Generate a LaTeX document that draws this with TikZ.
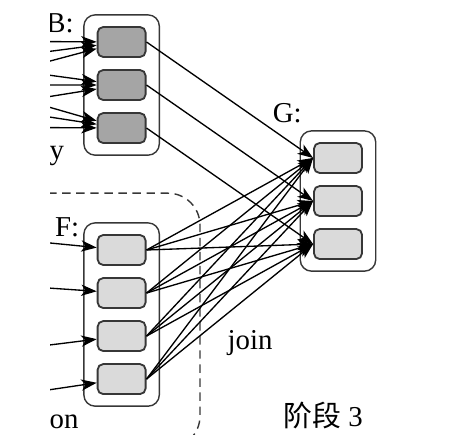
\documentclass[tikz,border=0pt]{standalone}
\usepackage{fontspec}
\setmainfont{Liberation Serif}
\newfontfamily\cjk{Noto Sans CJK SC}
\usetikzlibrary{positioning, fit, arrows.meta}
\definecolor{darkcell}{RGB}{165,165,165}
\definecolor{lightcell}{RGB}{218,218,218}
\definecolor{edgegray}{RGB}{55,55,55}

\begin{document}
\begin{tikzpicture}[
    font=\fontsize{20.5}{24}\selectfont,
    cell/.style={draw=edgegray, line width=1.3pt, rounded corners=4pt, fill=lightcell,
        minimum width=1.2cm, minimum height=0.75cm, inner sep=0pt},
    group/.style={draw=edgegray, line width=1pt, rounded corners=8pt,
        inner xsep=0.32cm, inner ysep=0.28cm},
    link/.style={line width=0.95pt, -{Stealth[length=11pt, width=8pt, inset=3pt]}},
    region/.style={dashed, dash pattern=on 6pt off 4pt, line width=1pt, draw=edgegray, rounded corners=0.8cm}
]
        \useasboundingbox (0,0) rectangle (11.4,-11.125);
        \clip (1.25,0) rectangle (11.4,-10.875);

        % dashed region around F
        \draw[region] (0.5,-4.83) -- (5,-4.83) -- (5,-11.2) -- (0.5,-11.2);

        % B: three dark cells
        \node[cell, fill=darkcell] (b1) at (3.04,-1.05) {};
        \node[cell, fill=darkcell, below=0.28cm of b1] (b2) {};
        \node[cell, fill=darkcell, below=0.28cm of b2] (b3) {};
        \node[group, fit=(b1)(b3)] (B) {};
        \node at (1.5,-0.58) {B:};
        \node at (1.42,-3.9) {y};

        % F: four light cells
        \node[cell] (f1) at (3.04,-6.25) {};
        \node[cell, below=0.28cm of f1] (f2) {};
        \node[cell, below=0.28cm of f2] (f3) {};
        \node[cell, below=0.28cm of f3] (f4) {};
        \node[group, fit=(f1)(f4)] (F) {};
        \node at (1.68,-5.68) {F:};
        \node at (1.6,-10.55) {on};

        % G: three light cells
        \node[cell] (g1) at (8.45,-3.95) {};
        \node[cell, below=0.28cm of g1] (g2) {};
        \node[cell, below=0.28cm of g2] (g3) {};
        \node[group, fit=(g1)(g3)] (G) {};
        \node at (7.18,-2.83) {G:};

        % labels
        \node (join) at (6.25,-8.58) {join};
        \node (stage) at (8.08,-10.38) {{\cjk 阶段} 3};

        % incoming arrows from the left
        \foreach \y/\t in {-1.04/b1, -1.29/b1, -1.54/b1, -1.875/b2, -2.125/b2, -2.42/b2,
                           -2.67/b3, -2.92/b3, -3.19/b3, -6.07/f1, -7.2/f2, -8.63/f3, -9.75/f4} {
            \coordinate (src) at (1.2,\y);
            \draw[link] (src) -- (\t);
        }

        % B -> G
        \foreach \i in {1,2,3}
            \draw[link] (b\i.east) -- (g\i.west);

        % F -> G, all pairs
        \foreach \i in {1,...,4}
            \foreach \j in {1,2,3}
                \draw[link] (f\i.east) -- (g\j.west);

    \end{tikzpicture}
\end{document}
